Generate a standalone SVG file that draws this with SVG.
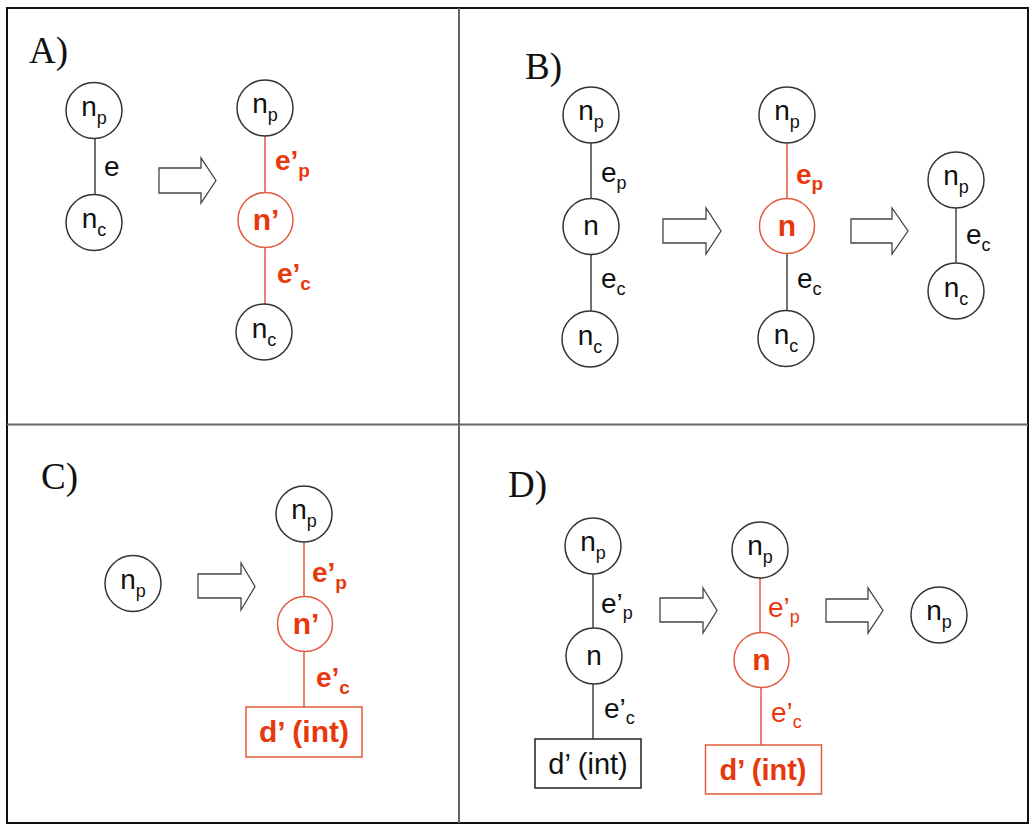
<svg xmlns="http://www.w3.org/2000/svg" width="1032" height="825" viewBox="0 0 1032 825">
<style>
.c{fill:#fff;stroke:#333;stroke-width:1.5}
.cr{fill:#fff;stroke:#e35a3d;stroke-width:1.5}
.l{stroke:#444;stroke-width:1.5;fill:none}
.lr{stroke:#e35a3d;stroke-width:1.5;fill:none}
.bx{fill:#fff;stroke:#222;stroke-width:1.5}
.bxr{fill:#fff;stroke:#e35a3d;stroke-width:1.5}
.ar{fill:#fff;stroke:#444;stroke-width:1.3;stroke-linejoin:miter}
.t{font-family:"Liberation Sans",Arial,sans-serif;font-size:28px;fill:#111}
.tr{font-family:"Liberation Sans",Arial,sans-serif;font-size:28px;fill:#e8380d}
.tb{font-family:"Liberation Sans",Arial,sans-serif;font-size:28px;font-weight:bold;fill:#e8380d}
.nb{font-size:30px}
.s{font-size:18px}
.sb{font-size:19px}
.m{text-anchor:middle}
.lab{font-family:"Liberation Serif","Times New Roman",serif;font-size:37px;fill:#111}
.frame{fill:none;stroke:#111;stroke-width:2}
.div{stroke:#666;stroke-width:2}
</style>
<g id="frame">
<rect class="frame" x="7" y="8" width="1021" height="815"/>
<line class="div" x1="459" y1="8" x2="459" y2="823"/>
<line class="div" x1="7" y1="424.5" x2="1028" y2="424.5"/>
</g>
<g id="panel-labels">
<text class="lab" x="29" y="63">A)</text>
<text class="lab" x="525" y="79">B)</text>
<text class="lab" x="41" y="489">C)</text>
<text class="lab" x="508" y="497">D)</text>
</g>
<g id="connectors">
<line class="l" x1="95" y1="138.5" x2="95" y2="194.5"/>
<line class="lr" x1="265" y1="136" x2="265" y2="192.5"/>
<line class="lr" x1="265" y1="247.5" x2="265" y2="304"/>
<line class="l" x1="591" y1="143" x2="591" y2="199"/>
<line class="l" x1="591" y1="254" x2="591" y2="311.5"/>
<line class="lr" x1="787" y1="143" x2="787" y2="198.5"/>
<line class="l" x1="787" y1="253.5" x2="787" y2="311"/>
<line class="l" x1="956" y1="207.5" x2="956" y2="263.5"/>
<line class="lr" x1="304" y1="542" x2="304" y2="596.5"/>
<line class="lr" x1="304" y1="651.5" x2="304" y2="707"/>
<line class="l" x1="593" y1="574" x2="593" y2="628"/>
<line class="l" x1="593" y1="684" x2="593" y2="739"/>
<line class="lr" x1="760" y1="578" x2="760" y2="632"/>
<line class="lr" x1="761" y1="688" x2="761" y2="745"/>
</g>
<g id="edge-labels">
<text class="t" x="104" y="176">e</text>
<text class="tb" x="275" y="170">e’<tspan class="sb" dy="7">p</tspan></text>
<text class="tb" x="277" y="283">e’<tspan class="sb" dy="7">c</tspan></text>
<text class="t" x="601" y="182">e<tspan class="s" dy="7">p</tspan></text>
<text class="t" x="601" y="288">e<tspan class="s" dy="7">c</tspan></text>
<text class="tb" x="796" y="184">e<tspan class="sb" dy="6">p</tspan></text>
<text class="t" x="797" y="288">e<tspan class="s" dy="7">c</tspan></text>
<text class="t" x="966" y="244">e<tspan class="s" dy="7">c</tspan></text>
<text class="tb" x="312" y="582">e’<tspan class="sb" dy="7">p</tspan></text>
<text class="tb" x="316" y="687">e’<tspan class="sb" dy="7">c</tspan></text>
<text class="t" x="601" y="613">e’<tspan class="s" dy="6">p</tspan></text>
<text class="t" x="604" y="718">e’<tspan class="s" dy="6">c</tspan></text>
<text class="tr" x="768" y="617">e’<tspan class="s" dy="6">p</tspan></text>
<text class="tr" x="771" y="722">e’<tspan class="s" dy="6">c</tspan></text>
</g>
<g id="arrows">
<path class="ar" d="M159,168 H201 V158 L216,180.5 L201,203 V193 H159 Z"/>
<path class="ar" d="M663,219 H706 V208 L721,231 L706,254 V243 H663 Z"/>
<path class="ar" d="M851,219 H892 V208 L908,231 L892,254 V243 H851 Z"/>
<path class="ar" d="M198,574 H241 V563 L255,586.5 L241,610 V598 H198 Z"/>
<path class="ar" d="M660,598 H703 V588 L717,610.5 L703,633 V622 H660 Z"/>
<path class="ar" d="M826,599 H868 V588 L883,610.5 L868,633 V622 H826 Z"/>
</g>
<g id="A-np1"><circle class="c" cx="94" cy="110.5" r="28"/><text class="t m" x="94" y="115.5">n<tspan class="s" dy="8">p</tspan></text></g>
<g id="A-nc1"><circle class="c" cx="94" cy="222.5" r="28"/><text class="t m" x="94" y="228">n<tspan class="s" dy="8">c</tspan></text></g>
<g id="A-np2"><circle class="c" cx="265" cy="108" r="28"/><text class="t m" x="265" y="113">n<tspan class="s" dy="8">p</tspan></text></g>
<g id="A-nprime"><circle class="cr" cx="265.5" cy="220" r="27.5"/><text class="tb nb m" x="266" y="229.5">n’</text></g>
<g id="A-nc2"><circle class="c" cx="264" cy="332" r="28"/><text class="t m" x="264" y="337.5">n<tspan class="s" dy="8">c</tspan></text></g>

<g id="B-np1"><circle class="c" cx="591" cy="115" r="28"/><text class="t m" x="591" y="120">n<tspan class="s" dy="8">p</tspan></text></g>
<g id="B-n1"><circle class="c" cx="591" cy="226.5" r="28"/><text class="t m" x="591" y="235">n</text></g>
<g id="B-nc1"><circle class="c" cx="590" cy="339" r="28"/><text class="t m" x="590" y="344.5">n<tspan class="s" dy="8">c</tspan></text></g>
<g id="B-np2"><circle class="c" cx="787" cy="115" r="28"/><text class="t m" x="787" y="120">n<tspan class="s" dy="8">p</tspan></text></g>
<g id="B-n2"><circle class="cr" cx="787" cy="226" r="27.5"/><text class="tb nb m" x="787" y="235.5">n</text></g>
<g id="B-nc2"><circle class="c" cx="786" cy="338.5" r="28"/><text class="t m" x="786" y="344">n<tspan class="s" dy="8">c</tspan></text></g>
<g id="B-np3"><circle class="c" cx="956" cy="180" r="28"/><text class="t m" x="956" y="185">n<tspan class="s" dy="8">p</tspan></text></g>
<g id="B-nc3"><circle class="c" cx="956" cy="291" r="28"/><text class="t m" x="956" y="296.5">n<tspan class="s" dy="8">c</tspan></text></g>

<g id="C-np1"><circle class="c" cx="133" cy="583.5" r="28"/><text class="t m" x="133" y="588.5">n<tspan class="s" dy="8">p</tspan></text></g>
<g id="C-np2"><circle class="c" cx="304" cy="514" r="28"/><text class="t m" x="304" y="519">n<tspan class="s" dy="8">p</tspan></text></g>
<g id="C-nprime"><circle class="cr" cx="305" cy="624" r="27.5"/><text class="tb nb m" x="306" y="633.5">n’</text></g>
<g id="C-d"><rect class="bxr" x="246" y="707" width="116" height="50"/><text class="tb m" x="304" y="742" style="font-size:30px">d’ (int)</text></g>

<g id="D-np1"><circle class="c" cx="593" cy="546" r="28"/><text class="t m" x="593" y="551">n<tspan class="s" dy="8">p</tspan></text></g>
<g id="D-n1"><circle class="c" cx="594" cy="656" r="28"/><text class="t m" x="594" y="664.5">n</text></g>
<g id="D-d1"><rect class="bx" x="535" y="739" width="106" height="49"/><text class="t m" x="588" y="774" style="font-size:29px">d’ (int)</text></g>
<g id="D-np2"><circle class="c" cx="760" cy="550" r="28"/><text class="t m" x="760" y="555">n<tspan class="s" dy="8">p</tspan></text></g>
<g id="D-n2"><circle class="cr" cx="761.5" cy="660" r="27.5"/><text class="tb nb m" x="761.5" y="669.5">n</text></g>
<g id="D-d2"><rect class="bxr" x="705.5" y="745" width="116" height="49"/><text class="tb m" x="763" y="780" style="font-size:29px">d’ (int)</text></g>
<g id="D-np3"><circle class="c" cx="939" cy="615" r="28"/><text class="t m" x="939" y="620">n<tspan class="s" dy="8">p</tspan></text></g>
</svg>
